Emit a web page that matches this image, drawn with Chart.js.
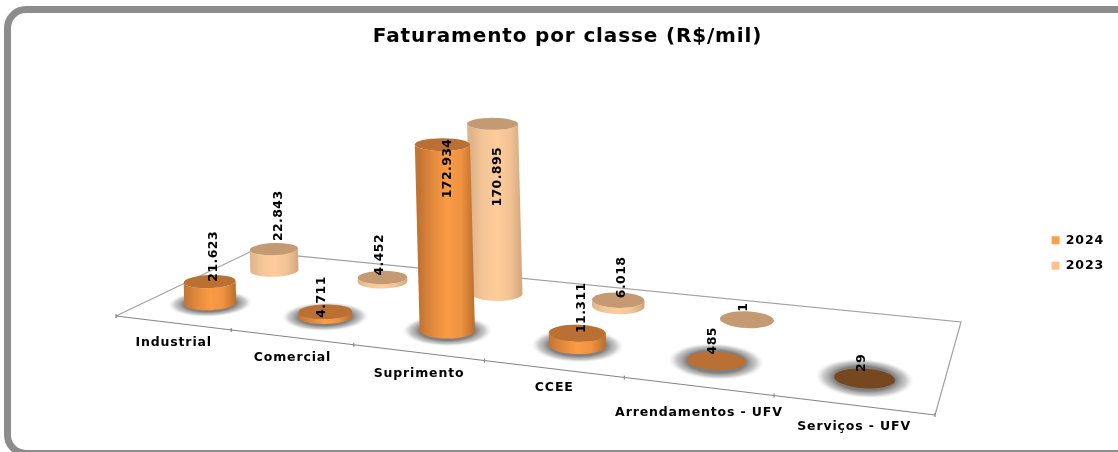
<!DOCTYPE html>
<html><head><meta charset="utf-8">
<script src="https://cdn.jsdelivr.net/npm/chart.js@4/dist/chart.umd.js"></script>
<style>
html,body{margin:0;padding:0;background:#fff;overflow:hidden;width:1118px;height:452px}
#frame{position:absolute;left:4px;top:6px;width:1128px;height:437px;border:7.5px solid #8c8c8c;border-radius:22px;box-sizing:content-box}
#c{position:absolute;left:0;top:0}
</style></head><body>
<div id="frame"></div>
<canvas id="c" width="1118" height="452"></canvas>
<script>
const categories = ['Industrial','Comercial','Suprimento','CCEE','Arrendamentos - UFV','Serviços - UFV'];
const values2024 = [21623, 4711, 172934, 11311, 485, 29];
const values2023 = [22843, 4452, 170895, 6018, 1, null];

// floor of the perspective view (screen corners), not data
const FLOOR = {p00:[116,316], p10:[935,415], p11:[961,322], p01:[251.5,251.3]};
const RADIUS = 26.7, AXIS_PX = 208, AXIS_MAX = 200000;
const tickDrop = [20,21,21,19,26,22];
const FONT = 'bold 12.5px "DejaVu Sans"';
const SPACING = '0.85px';

const H = (() => {
  const [x0,y0]=FLOOR.p00,[x1,y1]=FLOOR.p10,[x2,y2]=FLOOR.p11,[x3,y3]=FLOOR.p01;
  const dx1=x1-x2,dx2=x3-x2,sx=x0-x1+x2-x3,dy1=y1-y2,dy2=y3-y2,sy=y0-y1+y2-y3;
  const det=dx1*dy2-dx2*dy1, g=(sx*dy2-dx2*sy)/det, h=(dx1*sy-sx*dy1)/det;
  return {a:x1-x0+g*x1,b:x3-x0+h*x3,c:x0,d:y1-y0+g*y1,e:y3-y0+h*y3,f:y0,g,h};
})();
function project(u,v){
  const w=H.g*u+H.h*v+1;
  return {x:(H.a*u+H.b*v+H.c)/w, y:(H.d*u+H.e*v+H.f)/w, s:1/w};
}
function geom(el){
  const chart=el._chart, sx=chart.scales.x, sy=chart.scales.y;
  const ds=chart.data.datasets[el._di];
  const u=(el.x-sx.left)/sx.width, p=project(u,ds.depth);
  const h=(el.base-el.y)/sy.height*AXIS_PX*p.s;
  const rx=RADIUS*p.s, ry=rx*(0.25+0.08*u), rot=(u-0.4)*0.12;
  const lean=h*0.17*(0.57-u)*(h>100?1:0.3);
  return {u,cx:p.x,cy:p.y,rx,ry,ryTop:ry*(1-h/1000),h,rot,tx:p.x-lean,ty:p.y-h,ds,value:ds.data[el._i]};
}
Chart.BarElement.prototype.draw=function(ctx){
  const g=geom(this), ds=g.ds;
  ctx.save();
  if(ds.castShadow){
    ctx.save();
    ctx.translate(g.cx,g.cy); ctx.rotate(g.rot); ctx.scale(1.62*g.rx,2.0*g.ry);
    const sh=ctx.createRadialGradient(0,0,0,0,0,1);
    sh.addColorStop(0,'rgba(105,105,105,.95)');sh.addColorStop(.62,'rgba(115,115,115,.9)');
    sh.addColorStop(.84,'rgba(160,160,160,.55)');sh.addColorStop(1,'rgba(220,220,220,0)');
    ctx.fillStyle=sh;ctx.beginPath();ctx.arc(0,0,1,0,Math.PI*2);ctx.fill();
    ctx.restore();
  }
  if(g.h>0.6){
    const gr=ctx.createLinearGradient(g.cx-g.rx,0,g.cx+g.rx,0);
    ds.sideStops.forEach((col,i)=>gr.addColorStop(i/(ds.sideStops.length-1),col));
    ctx.fillStyle=gr;ctx.beginPath();
    ctx.ellipse(g.cx,g.cy,g.rx,g.ry,g.rot,0,Math.PI);
    ctx.lineTo(g.tx-g.rx*Math.cos(g.rot),g.ty-g.rx*Math.sin(g.rot));
    ctx.ellipse(g.tx,g.ty,g.rx,g.ryTop,g.rot,Math.PI,0,true);
    ctx.closePath();ctx.fill();
  }
  ctx.fillStyle=g.value<100?ds.thinTop:ds.topColor;
  ctx.beginPath();ctx.ellipse(g.tx,g.ty,g.rx,g.ryTop,g.rot,0,Math.PI*2);ctx.fill();
  ctx.restore();
};
const floorPlugin={id:'floor',
  beforeUpdate(chart){chart.ctx.letterSpacing=SPACING;},
  beforeDraw(chart){chart.ctx.letterSpacing=SPACING;},
  afterDatasetsUpdate(chart){
    chart.data.datasets.forEach((ds,di)=>chart.getDatasetMeta(di).data.forEach((el,i)=>{el._chart=chart;el._di=di;el._i=i;}));
  },
  beforeDatasetsDraw(chart){
    const ctx=chart.ctx,n=chart.scales.x.getLabels().length,P=(u,v)=>project(u,v);
    ctx.save();ctx.lineWidth=1.2;
    ctx.strokeStyle='#a0a0a0';ctx.beginPath();
    [[0,0],[0,1],[1,1],[1,0]].forEach(([u,v],i)=>{const p=P(u,v);i?ctx.lineTo(p.x,p.y):ctx.moveTo(p.x,p.y)});
    ctx.stroke();
    ctx.strokeStyle='#858585';ctx.beginPath();
    let p=P(0,0);ctx.moveTo(p.x,p.y);p=P(1,0);ctx.lineTo(p.x,p.y);
    for(let i=0;i<=n;i++){p=P(i/n,0);ctx.moveTo(p.x,p.y-2);ctx.lineTo(p.x,p.y+2);}
    ctx.stroke();
    ctx.fillStyle='#000';ctx.font=FONT;ctx.textAlign='center';ctx.textBaseline='middle';
    chart.scales.x.getLabels().forEach((t,i)=>{
      const q=P((i+.5)/n,0);ctx.fillText(t,q.x+1,q.y+tickDrop[i]);
    });
    ctx.restore();
  },
  afterDatasetsDraw(chart){
    const ctx=chart.ctx;
    ctx.save();ctx.fillStyle='#000';ctx.font='bold 12.5px "DejaVu Sans"';ctx.letterSpacing='0.4px';ctx.textBaseline='middle';
    chart.data.datasets.forEach((ds,di)=>{
      chart.getDatasetMeta(di).data.forEach(el=>{
        const v=ds.data[el._i]; if(v==null)return;
        const g=geom(el), t=String(v).replace(/\B(?=(\d{3})+$)/g,'.');
        const dx=v>=5000?4:-3;
        const low=(v>=1000&&v<10000)?6:0;
        ctx.save();
        if(v>100000){ctx.translate(g.tx+5,g.ty+ds.labelInside);ctx.rotate(-Math.PI/2);ctx.textAlign='right';}
        else{ctx.translate(g.cx+dx,g.ty+low+(v<1000&&!di?-6.5:ds.labelAbove));ctx.rotate(-Math.PI/2);ctx.textAlign='left';}
        ctx.fillText(t,0,0);ctx.restore();
      });
    });
    ctx.restore();
  }
};
new Chart(document.getElementById('c'),{
  type:'bar',
  data:{labels:categories,datasets:[
    {label:'2024',data:values2024,depth:0.26,castShadow:true,backgroundColor:'#FF9F46',borderWidth:0,clip:false,
     sideStops:['#C47432','#E38A3E','#FB9C45','#EE923F','#B96D2E'],topColor:'#B97032',thinTop:'#774820',labelInside:-6,labelAbove:0},
    {label:'2023',data:values2023,depth:0.76,castShadow:false,backgroundColor:'#FFC08C',borderWidth:0,clip:false,
     sideStops:['#E0B48A','#F5C697','#FFCC9B','#F3C394','#D2A77E'],topColor:'#C49A72',thinTop:'#C49A72',labelInside:23,labelAbove:-8}
  ]},
  options:{
    responsive:false,animation:false,grouped:false,
    layout:{padding:{left:21,right:4,top:12,bottom:-42}},
    scales:{x:{display:false,offset:true,grid:{display:false}},y:{display:false,min:0,max:AXIS_MAX}},
    plugins:{
      title:{display:true,text:'Faturamento por classe (R$/mil)',color:'#000',font:{family:'"DejaVu Sans"',size:20,weight:'bold'},padding:{top:13,bottom:52}},
      legend:{position:'right',labels:{boxWidth:8,boxHeight:8,padding:13,color:'#000',font:{family:'"DejaVu Sans"',size:12.5,weight:'bold'}}},
      tooltip:{enabled:false}
    }
  },
  plugins:[floorPlugin]
});
</script></body></html>
